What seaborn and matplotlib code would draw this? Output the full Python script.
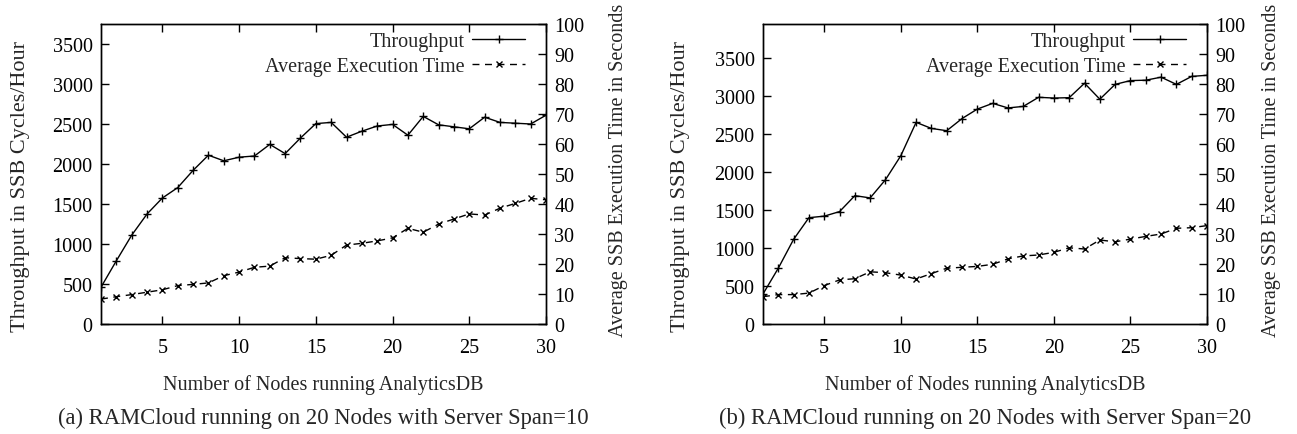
import matplotlib
matplotlib.use('Agg')
import matplotlib.pyplot as plt
import pandas as pd
import seaborn as sns

nodes = list(range(1, 31))

throughput_span10 = [460, 790, 1110, 1375, 1575, 1705, 1920, 2110, 2040, 2085,
                     2100, 2245, 2130, 2325, 2505, 2520, 2335, 2410, 2475, 2495,
                     2360, 2595, 2490, 2465, 2440, 2585, 2520, 2510, 2500, 2610]
exec_time_span10 = [8.3, 9.1, 9.8, 10.6, 11.4, 12.8, 13.2, 13.7, 16.1, 17.3,
                    18.9, 19.3, 22.1, 21.8, 21.6, 22.9, 26.3, 26.9, 27.7, 28.7,
                    31.9, 30.6, 33.3, 35.0, 36.7, 36.3, 38.6, 40.2, 41.9, 41.4]

throughput_span20 = [395, 735, 1115, 1400, 1420, 1480, 1690, 1660, 1900, 2215,
                     2655, 2575, 2545, 2705, 2830, 2905, 2845, 2865, 2985, 2975,
                     2980, 3170, 2960, 3155, 3205, 3210, 3250, 3155, 3260, 3275]
exec_time_span20 = [9.1, 9.8, 9.8, 10.3, 12.8, 14.7, 15.1, 17.4, 17.1, 16.3,
                    15.0, 16.8, 18.6, 18.9, 19.2, 19.9, 21.7, 22.7, 23.0, 23.9,
                    25.4, 25.0, 28.0, 27.4, 28.3, 29.2, 30.0, 31.9, 32.1, 32.8]

captions = ['(a) RAMCloud running on 20 Nodes with Server Span=10',
            '(b) RAMCloud running on 20 Nodes with Server Span=20']

sns.set_theme(style='ticks')
plt.rcParams['font.family'] = ['Liberation Serif', 'DejaVu Serif']
plt.rcParams['axes.linewidth'] = 1.0
plt.rcParams['xtick.direction'] = 'in'
plt.rcParams['ytick.direction'] = 'in'
plt.rcParams['xtick.major.size'] = 5.5
plt.rcParams['ytick.major.size'] = 5.5
plt.rcParams['xtick.major.width'] = 1.0
plt.rcParams['ytick.major.width'] = 1.0
plt.rcParams['xtick.color'] = 'black'
plt.rcParams['ytick.color'] = 'black'
plt.rcParams['axes.edgecolor'] = 'black'

FS = 14.5


def draw_panel(fig, rect, throughput, exec_time, ymax, caption, lab_left, lab_right):
    ax = fig.add_axes(rect)
    ax2 = ax.twinx()
    data = pd.DataFrame({'nodes': nodes, 'throughput': throughput, 'exec': exec_time})

    sns.lineplot(data=data, x='nodes', y='throughput', ax=ax, color='black',
                 marker='+', markersize=6, markeredgewidth=1.0, markeredgecolor='black',
                 linewidth=1.0, label='Throughput', legend=False)
    sns.lineplot(data=data, x='nodes', y='exec', ax=ax2, color='black',
                 marker='x', markersize=5, markeredgewidth=1.0, markeredgecolor='black',
                 linewidth=1.0, linestyle=(0, (5, 4)),
                 label='Average Execution Time', legend=False)

    ax.set_xlim(1, 30)
    ax.set_ylim(0, ymax)
    ax2.set_ylim(0, 100)
    ax.set_xticks([5, 10, 15, 20, 25, 30])
    ax.set_yticks(range(0, 4000, 500))
    ax2.set_yticks(range(0, 101, 10))
    ax.tick_params(axis='x', top=True, labelsize=FS, pad=10)
    ax.tick_params(axis='y', labelsize=FS, pad=6)
    ax2.tick_params(axis='y', labelsize=FS, pad=6)
    for a in (ax, ax2):
        for s in a.spines.values():
            s.set_visible(True)
            s.set_color('black')

    ax.set_xlabel('Number of Nodes running AnalyticsDB', fontsize=FS)
    ax.xaxis.set_label_coords(0.5, -0.167)
    ax.set_ylabel('Throughput in SSB Cycles/Hour', fontsize=16)
    ax.yaxis.set_label_coords(lab_left, 0.46)
    ax2.set_ylabel('Average SSB Execution Time in Seconds', fontsize=FS)
    ax2.yaxis.set_label_coords(lab_right, 0.517)

    h1, l1 = ax.get_legend_handles_labels()
    h2, l2 = ax2.get_legend_handles_labels()
    ax2.legend(h1 + h2, l1 + l2, loc='upper right', bbox_to_anchor=(0.993, 1.035),
               frameon=False, markerfirst=False, handlelength=2.6,
               handletextpad=0.4, labelspacing=0.3, fontsize=FS)

    fig.text(rect[0] + rect[2] / 2, 0.038, caption, ha='center', va='center', fontsize=16.3)


fig = plt.figure(figsize=(12.97, 4.35), dpi=100)
draw_panel(fig, [101 / 1297, 110 / 435, 445 / 1297, 300 / 435],
           throughput_span10, exec_time_span10, 3750, captions[0], -0.16, 1.142)
draw_panel(fig, [763 / 1297, 110 / 435, 444 / 1297, 300 / 435],
           throughput_span20, exec_time_span20, 3950, captions[1], -0.164, 1.124)

fig.savefig('out.png', dpi=100)
